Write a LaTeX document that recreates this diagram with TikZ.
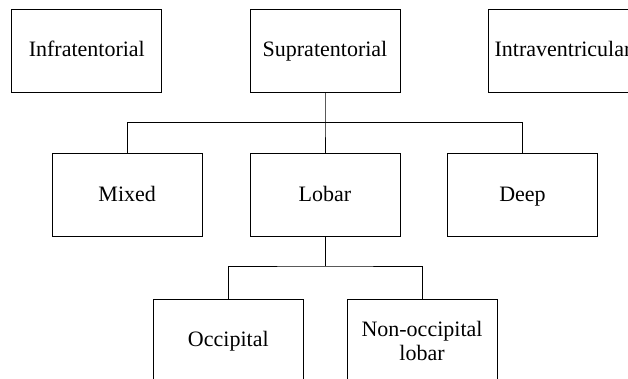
\documentclass[tikz,border=0pt]{standalone}
\usepackage{fontspec}
\setmainfont{Liberation Serif}
\begin{document}
\begin{tikzpicture}[x=1pt,y=-1pt,
  box/.style={draw=black, line width=1pt, minimum width=150pt, minimum height=83pt,
    inner sep=0pt, align=center, font=\fontsize{22}{24}\selectfont},
  onebox/.style={box, text height=16pt, text depth=4pt},
  link/.style={draw=black, line width=1pt}]
  \useasboundingbox (0,0) rectangle (628,379);
  \clip (0,0) rectangle (628,379);
  % top row
  \node[onebox] (infra) at (86.8,50.6) {Infratentorial};
  \node[onebox] (supra) at (325,50.6) {Supratentorial};
  \node[onebox] (intra) at (563,50.6) {Intraventricular};
  % second row
  \node[onebox] (mixed) at (127.2,195.2) {Mixed};
  \node[onebox] (lobar) at (325,195.2) {Lobar};
  \node[onebox] (deep)  at (522.5,195.2) {Deep};
  % third row
  \node[onebox] (occ)    at (228.3,340.5) {Occipital};
  \node[box] (nonocc) at (422,340.5) {Non-occipital\\lobar};
  % connectors
  \coordinate (busA) at (325,122.3);
  \coordinate (busB) at (325,266);
  \draw[link] (supra.south) -- (busA) -- (lobar.north);
  \draw[link] (mixed.north) |- (busA) -| (deep.north);
  \draw[link] (lobar.south) -- (busB);
  \draw[link] (occ.north) |- (busB) -| (nonocc.north);
\end{tikzpicture}
\end{document}
